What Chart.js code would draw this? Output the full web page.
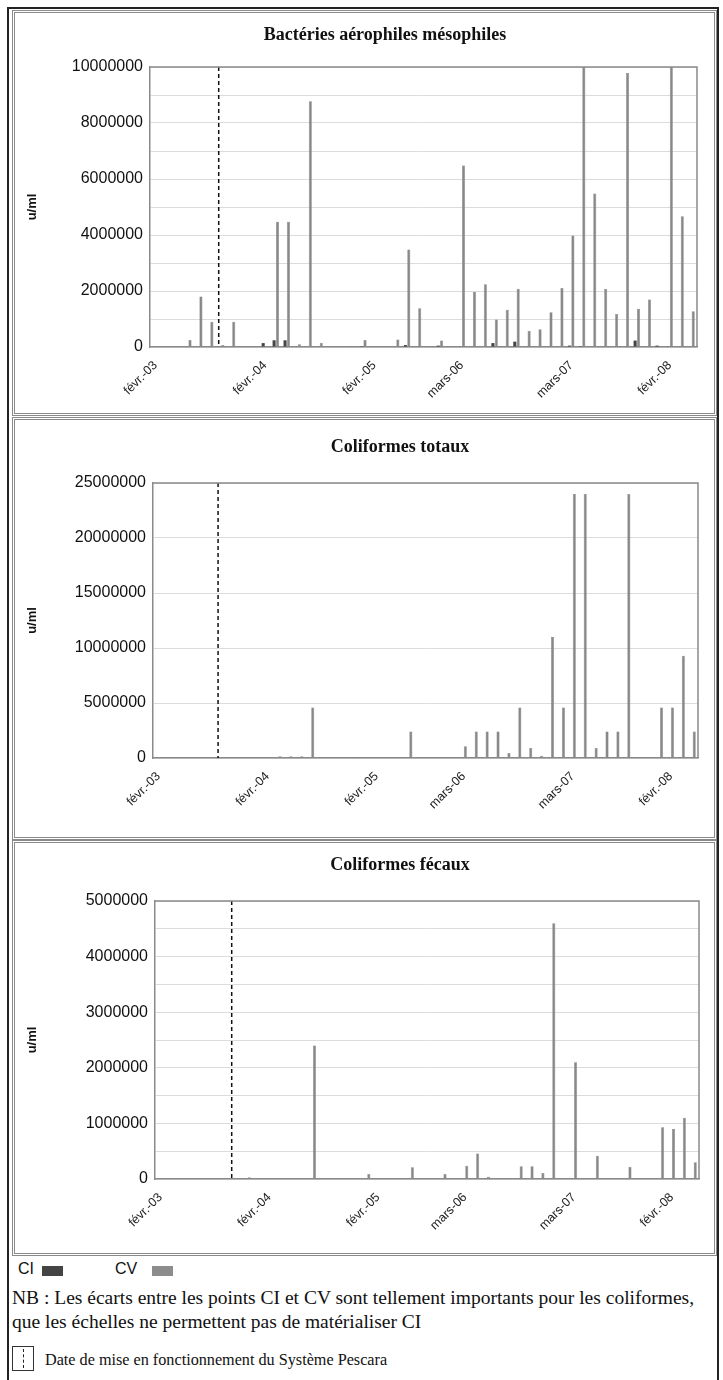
<!DOCTYPE html>
<html>
<head>
<meta charset="utf-8">
<script src="https://cdn.jsdelivr.net/npm/chart.js@4.4.1/dist/chart.umd.min.js"></script>
<style>
  body { margin: 0; width: 723px; height: 1380px; position: relative; overflow: hidden; background: #fff; font-family: 'Liberation Sans', Arial, sans-serif; color: #111; }
  .frame { position: absolute; left: 7px; top: 7px; width: 708px; height: 1390px; border: 2px solid #222; }
  .panel { position: absolute; left: 12px; width: 705px; box-sizing: border-box; border: 3px double #8a8a8a; background: #fff; }
  .panel canvas { position: absolute; left: 0; top: 0; }
  .ptitle { position: absolute; width: 600px; text-align: center; font: bold 18px 'Liberation Serif', 'Times New Roman', serif; }
  .legend { position: absolute; font-size: 16px; }
  .swatch { position: absolute; width: 21px; height: 10px; }
  .note { position: absolute; left: 12px; font: 19.5px 'Liberation Serif', 'Times New Roman', serif; line-height: 24px; white-space: nowrap; }
  .dbox { position: absolute; left: 12px; top: 1346px; width: 22px; height: 25px; border: 1px solid #333; box-sizing: border-box; }
  .dbox div { position: absolute; left: 10px; top: 2px; height: 19px; border-left: 1px dashed #222; }
</style>
</head>
<body>
<div class="frame"></div>

<div class="panel" style="top:10px;height:406px"><canvas id="bam" width="699" height="400"></canvas></div>
<div class="panel" style="top:417px;height:423px"><canvas id="ct" width="699" height="417"></canvas></div>
<div class="panel" style="top:840px;height:416px"><canvas id="cf" width="699" height="410"></canvas></div>

<div class="ptitle" style="left:85px;top:24px">Bactéries aérophiles mésophiles</div>
<div class="ptitle" style="left:100px;top:436px">Coliformes totaux</div>
<div class="ptitle" style="left:100px;top:854px">Coliformes fécaux</div>

<div class="legend" style="left:18px;top:1260px">CI</div>
<div class="swatch" style="left:42px;top:1266px;background:#444"></div>
<div class="legend" style="left:115px;top:1260px">CV</div>
<div class="swatch" style="left:152px;top:1266px;background:#8c8c8c"></div>
<div class="note" style="top:1286px">NB : Les écarts entre les points CI et CV sont tellement importants pour les coliformes,<br>que les échelles ne permettent pas de matérialiser CI</div>
<div class="dbox"><div></div></div>
<div class="note" style="left:45px;top:1348px;font-size:16.2px">Date de mise en fonctionnement du Système Pescara</div>

<script>
// 50 prélèvements, fev. 2003 -> 2008
const nSamples = 50;
const tickIndex = [0, 10, 20, 28, 38, 47];
const tickText = ['févr.-03', 'févr.-04', 'févr.-05', 'mars-06', 'mars-07', 'févr.-08'];

// Bactéries aérophiles mésophiles (u/ml)
const bamCI = [0, 0, 0, 0, 0, 0, 0, 0, 0, 0,
  140000, 240000, 240000, 0, 0, 0, 0, 0, 15000, 30000,
  0, 0, 0, 70000, 0, 0, 50000, 0, 0, 0,
  0, 140000, 0, 190000, 0, 0, 0, 0, 50000, 30000,
  0, 0, 0, 0, 230000, 0, 50000, 20000, 0, 0];
const bamCV = [0, 0, 0, 250000, 1800000, 900000, 70000, 900000, 0, 0,
  0, 4470000, 4470000, 100000, 8780000, 150000, 40000, 0, 20000, 250000,
  20000, 0, 270000, 3480000, 1380000, 20000, 230000, 0, 6480000, 1960000,
  2240000, 980000, 1330000, 2080000, 580000, 630000, 1240000, 2110000, 3980000, 10000000,
  5480000, 2070000, 1180000, 9790000, 1370000, 1700000, 0, 10000000, 4670000, 1280000];

// Coliformes totaux
const ctCI = [0, 0, 0, 0, 0, 0, 0, 0, 0, 0,
  0, 0, 0, 0, 0, 0, 0, 0, 0, 0,
  0, 0, 0, 0, 0, 0, 0, 0, 0, 0,
  0, 0, 0, 0, 0, 0, 0, 0, 0, 0,
  0, 0, 0, 0, 0, 0, 0, 0, 0, 0];
const ctCV = [0, 0, 0, 0, 0, 50000, 0, 0, 0, 0,
  0, 150000, 150000, 150000, 4600000, 0, 0, 0, 100000, 100000,
  0, 0, 0, 2400000, 0, 100000, 100000, 0, 1060000, 2400000,
  2400000, 2400000, 450000, 4600000, 900000, 200000, 11000000, 4600000, 24000000, 24000000,
  900000, 2400000, 2400000, 24000000, 0, 0, 4600000, 4600000, 9300000, 2400000];

// Coliformes fécaux
const cfCI = [0, 0, 0, 0, 0, 0, 0, 0, 0, 0,
  0, 0, 0, 0, 0, 0, 0, 0, 0, 0,
  0, 0, 0, 0, 0, 0, 0, 0, 0, 0,
  0, 0, 0, 0, 0, 0, 0, 0, 0, 0,
  0, 0, 0, 0, 0, 0, 0, 0, 0, 0];
const cfCV = [0, 10000, 0, 0, 0, 0, 0, 0, 30000, 0,
  0, 0, 0, 0, 2400000, 0, 0, 0, 0, 90000,
  0, 0, 0, 210000, 0, 10000, 90000, 0, 240000, 460000,
  40000, 10000, 0, 230000, 230000, 110000, 4600000, 0, 2100000, 20000,
  420000, 0, 10000, 220000, 10000, 0, 930000, 900000, 1100000, 300000];

// position of the Pescara start date, in sample units
const pescaraAt = { bam: 5.78, ct: 5.47, cf: 6.55 };

const framePlugin = {
  id: 'frame',
  afterDraw(chart) {
    const a = chart.chartArea, c = chart.ctx;
    c.save();
    c.strokeStyle = '#8a8a8a';
    c.lineWidth = 1.5;
    c.beginPath();
    c.moveTo(a.left, a.top);
    c.lineTo(a.right, a.top);
    c.lineTo(a.right, a.bottom);
    c.stroke();
    c.restore();
  }
};

const pescaraPlugin = {
  id: 'pescara',
  afterDatasetsDraw(chart, args, opts) {
    const x = chart.scales.x, a = chart.chartArea, c = chart.ctx;
    const step = x.getPixelForValue(1) - x.getPixelForValue(0);
    const px = x.getPixelForValue(0) + opts.at * step;
    c.save();
    c.strokeStyle = '#111';
    c.lineWidth = 1.5;
    c.setLineDash([4, 3]);
    c.beginPath();
    c.moveTo(px, a.top);
    c.lineTo(px, a.bottom);
    c.stroke();
    c.restore();
  }
};

function makePanel(id, ci, cv, geo) {
  const labels = [];
  for (let i = 0; i < nSamples; i++) labels.push(String(i));
  new Chart(document.getElementById(id), {
    type: 'bar',
    data: {
      labels: labels,
      datasets: [
        { label: 'CI', data: ci, backgroundColor: '#444' },
        { label: 'CV', data: cv, backgroundColor: '#888', borderColor: '#777', borderWidth: 0.5 }
      ]
    },
    plugins: [framePlugin, pescaraPlugin],
    options: {
      responsive: false,
      animation: false,
      devicePixelRatio: 1,
      categoryPercentage: 0.62,
      barPercentage: 0.9,
      layout: { padding: { top: geo.top, right: geo.right, left: 0, bottom: 0 } },
      plugins: {
        legend: { display: false },
        tooltip: { enabled: false },
        pescara: { at: geo.pescara }
      },
      scales: {
        x: {
          grid: { display: false },
          border: { color: '#8a8a8a', width: 1.5 },
          ticks: {
            autoSkip: false,
            minRotation: 45,
            maxRotation: 45,
            padding: 3,
            color: '#222',
            font: { family: "'Liberation Sans', Arial", size: 12.5 },
            callback: (v, i) => {
              const k = tickIndex.indexOf(i);
              return k >= 0 ? tickText[k] : '';
            }
          },
          afterFit: (s) => { s.height = geo.xh; }
        },
        y: {
          min: 0,
          max: geo.max,
          grid: { color: '#dcdcdc', drawTicks: false },
          border: { color: '#8a8a8a', width: 1.5 },
          ticks: {
            stepSize: geo.step,
            padding: 7,
            color: '#111',
            font: { family: "'Liberation Sans', Arial", size: 16 },
            callback: (v) => (v % geo.labelEvery === 0 ? String(v) : '')
          },
          title: {
            display: true,
            text: 'u/ml',
            color: '#111',
            padding: { top: 10, bottom: 0 },
            font: { family: "'Liberation Sans', Arial", size: 13, weight: 'bold' }
          },
          afterFit: (s) => { s.width = geo.left; }
        }
      }
    }
  });
}

makePanel('bam', bamCI, bamCV, { top: 54, right: 17, left: 135, xh: 66, max: 10000000, step: 1000000, labelEvery: 2000000, pescara: pescaraAt.bam });
makePanel('ct', ctCI, ctCV, { top: 63, right: 16, left: 138, xh: 79, max: 25000000, step: 5000000, labelEvery: 5000000, pescara: pescaraAt.ct });
makePanel('cf', cfCI, cfCV, { top: 58, right: 15, left: 140, xh: 74, max: 5000000, step: 500000, labelEvery: 1000000, pescara: pescaraAt.cf });
</script>
</body>
</html>
